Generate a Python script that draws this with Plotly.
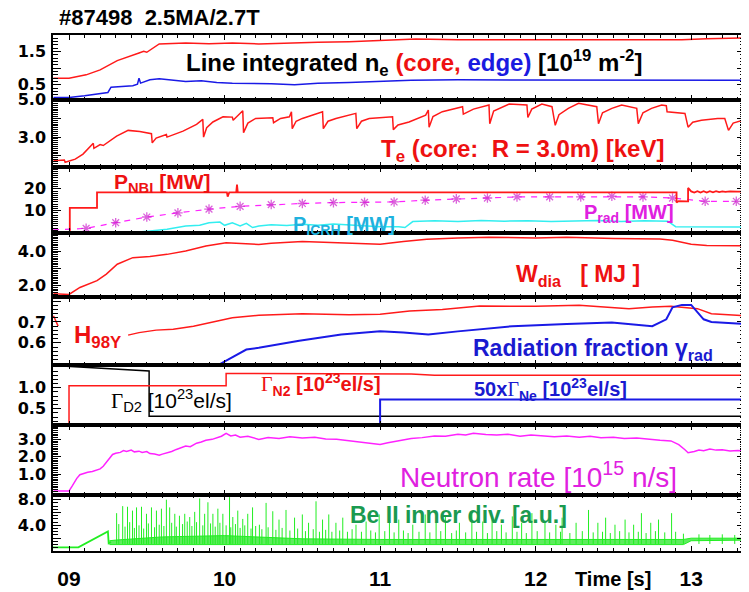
import plotly.graph_objects as go

# ---------------- data ----------------
ne_core_t = [8.90, 9.00, 9.11, 9.20, 9.31, 9.41, 9.45, 9.48, 9.50, 9.58, 9.66, 9.75, 9.90, 10.05, 10.22,
             10.40, 10.60, 10.80, 11.00, 11.23, 11.50, 11.87, 12.20, 12.51, 12.75, 12.94, 13.10, 13.26, 13.35]
ne_core_v = [0.70, 0.70, 0.80, 0.95, 1.23, 1.41, 1.46, 1.51, 1.48, 1.73, 1.75, 1.76, 1.74, 1.76, 1.73,
             1.76, 1.78, 1.80, 1.84, 1.88, 1.86, 1.86, 1.85, 1.84, 1.86, 1.86, 1.89, 1.91, 1.91]
ne_edge_t = [8.90, 9.00, 9.10, 9.20, 9.25, 9.27, 9.35, 9.41, 9.44, 9.45, 9.46, 9.52, 9.58, 9.63, 9.70,
             9.75, 9.85, 9.95, 10.05, 10.16, 10.30, 10.45, 10.60, 10.80, 11.00, 11.20, 11.50, 11.87,
             12.20, 12.51, 12.80, 13.00, 13.35]
ne_edge_v = [0.12, 0.12, 0.17, 0.25, 0.27, 0.43, 0.45, 0.47, 0.52, 0.70, 0.55, 0.65, 0.68, 0.66, 0.62,
             0.60, 0.62, 0.57, 0.55, 0.55, 0.53, 0.50, 0.55, 0.57, 0.60, 0.64, 0.65, 0.65,
             0.64, 0.63, 0.64, 0.63, 0.64]

te_t = [8.90, 8.97, 8.975, 9.04, 9.09, 9.156, 9.16, 9.20, 9.22, 9.306, 9.38, 9.455, 9.53, 9.535, 9.56,
        9.626, 9.63, 9.733, 9.82, 9.86, 9.865, 9.885, 9.925, 9.99, 10.05, 10.055, 10.117, 10.122, 10.15,
        10.20, 10.31, 10.315, 10.36, 10.417, 10.43, 10.435, 10.46, 10.50, 10.63, 10.635, 10.665, 10.716,
        10.844, 10.85, 10.88, 10.93, 11.08, 11.085, 11.115, 11.186, 11.293, 11.31, 11.315, 11.34, 11.40,
        11.53, 11.535, 11.60, 11.70, 11.705, 11.73, 11.83, 11.944, 11.95, 11.975, 12.04, 12.105, 12.126,
        12.15, 12.21, 12.276, 12.393, 12.404, 12.43, 12.49, 12.553, 12.65, 12.66, 12.69, 12.745, 12.81,
        12.84, 12.845, 12.96, 12.98, 13.01, 13.066, 13.17, 13.216, 13.24, 13.27, 13.32, 13.35]
te_v = [1.73, 1.77, 1.65, 1.82, 2.09, 2.67, 2.40, 2.60, 2.55, 3.05, 3.36, 3.30, 3.18, 2.69, 2.95,
        3.14, 3.00, 3.32, 3.68, 3.95, 3.00, 3.50, 3.81, 4.09, 4.07, 3.90, 4.41, 3.24, 3.75,
        4.00, 4.04, 3.77, 4.00, 4.09, 4.36, 3.45, 3.85, 4.00, 4.36, 3.45, 3.85, 4.00,
        4.27, 3.45, 3.85, 4.00, 4.09, 3.40, 3.65, 3.81, 4.18, 4.45, 3.53, 4.10, 4.36,
        4.63, 4.23, 4.50, 4.72, 3.72, 4.40, 4.77, 4.72, 4.05, 4.50, 4.77, 4.63, 3.63,
        4.20, 4.54, 4.81, 4.63, 3.72, 4.30, 4.54, 4.72, 4.54, 3.72, 4.30, 4.54, 4.72,
        4.68, 4.36, 4.27, 3.53, 3.80, 3.90, 4.00, 4.00, 3.36, 3.75, 3.90, 3.95]

pnbi_t = [8.897, 9.005, 9.005, 9.18, 9.18, 10.015, 10.02, 10.03, 10.075, 10.08, 10.085, 12.906,
          12.906, 12.92, 12.97, 12.98, 12.98, 13.00, 13.02, 13.04, 13.06, 13.08, 13.10, 13.12,
          13.14, 13.16, 13.18, 13.20, 13.22, 13.25, 13.30, 13.346]
pnbi_v = [0.0, 0.0, 11.3, 11.3, 18.4, 18.4, 16.4, 18.4, 18.4, 21.9, 18.4, 18.4,
          13.8, 14.4, 14.3, 14.3, 20.4, 18.8, 18.3, 18.9, 18.3, 18.9, 18.3, 18.9,
          18.4, 18.9, 18.5, 18.8, 18.6, 18.8, 18.7, 18.8]
picrh_t = [8.897, 9.45, 9.52, 9.63, 9.75, 9.84, 9.90, 9.97, 10.00, 10.05, 10.10, 10.14, 10.18,
           10.22, 10.30, 10.40, 10.50, 10.60, 10.70, 10.80, 10.90, 11.00, 11.12, 11.16, 11.21,
           11.35, 11.50, 11.65, 11.80, 11.95, 12.10, 12.25, 12.40, 12.55, 12.70, 12.85, 12.90, 13.346]
picrh_v = [0.3, 0.3, 0.7, 1.5, 3.0, 3.3, 4.5, 4.8, 3.3, 4.5, 3.0, 4.2, 2.3,
           3.0, 3.6, 3.2, 3.8, 3.3, 3.9, 3.4, 3.1, 2.7, 2.7, 2.3, 5.0,
           5.4, 5.1, 5.5, 5.2, 5.4, 5.0, 5.3, 5.5, 5.1, 5.4, 5.2, 2.7, 2.5]
prad_t = [8.897, 9.11, 9.30, 9.50, 9.70, 9.90, 10.10, 10.30, 10.50, 10.70, 10.90, 11.09, 11.29,
          11.49, 11.69, 11.88, 12.09, 12.29, 12.49, 12.69, 12.88, 13.09, 13.29]
prad_v = [1.2, 1.9, 4.5, 7.1, 9.0, 10.7, 12.0, 12.8, 13.3, 13.7, 13.8, 14.0, 14.8,
          15.4, 15.8, 16.3, 16.3, 16.3, 16.6, 16.3, 15.8, 14.3, 14.3]

wdia_t = [8.90, 9.00, 9.07, 9.18, 9.24, 9.31, 9.41, 9.52, 9.63, 9.75, 9.88, 10.01, 10.22, 10.30,
          10.50, 10.70, 10.90, 11.00, 11.15, 11.30, 11.50, 11.70, 12.00, 12.20, 12.50, 12.80,
          12.88, 13.00, 13.10, 13.35]
wdia_v = [1.53, 1.50, 1.90, 2.29, 2.67, 3.24, 3.62, 3.68, 3.81, 4.00, 4.29, 4.48, 4.38, 4.45,
          4.55, 4.50, 4.42, 4.40, 4.55, 4.68, 4.75, 4.80, 4.75, 4.80, 4.72, 4.70,
          4.63, 4.40, 4.32, 4.30]

h98_t = [8.90, 8.93, None, 9.38, 9.45, 9.56, 9.67, 9.80, 9.925, 10.05, 10.22, 10.50, 10.80, 11.00,
         11.19, 11.40, 11.64, 12.00, 12.28, 12.45, 12.60, 12.75, 12.87, 13.04, 13.13, 13.35]
h98_v = [0.73, 0.68, None, 0.637, 0.649, 0.661, 0.665, 0.680, 0.700, 0.720, 0.732, 0.740, 0.735, 0.737,
         0.753, 0.760, 0.777, 0.775, 0.780, 0.770, 0.764, 0.772, 0.775, 0.764, 0.740, 0.730]
frad_t = [9.95, 10.05, 10.14, 10.22, 10.48, 10.75, 11.00, 11.15, 11.31, 11.50, 11.85, 12.20, 12.49,
          12.75, 12.84, 12.88, 12.94, 13.00, 13.08, 13.13, 13.35]
frad_v = [0.49, 0.53, 0.568, 0.576, 0.61, 0.64, 0.656, 0.65, 0.64, 0.655, 0.68, 0.69, 0.697,
          0.68, 0.713, 0.77, 0.782, 0.782, 0.713, 0.70, 0.69]

d2_t = [8.897, 9.515, 9.515, 13.346]
d2_v = [1.53, 1.40, 0.32, 0.32]
n2_t = [8.897, 9.0, 9.0, 10.01, 10.01, 11.20, 11.35, 13.346]
n2_v = [0.10, 0.10, 1.05, 1.05, 1.34, 1.33, 1.30, 1.30]
negas_t = [8.897, 11.0, 11.0, 13.346]
negas_v = [0.10, 0.10, 0.72, 0.72]

neut_t = [8.90, 9.00, 9.02, 9.05, 9.07, 9.10, 9.12, 9.15, 9.18, 9.20, 9.22, 9.24, 9.26, 9.28, 9.30,
          9.33, 9.35, 9.37, 9.40, 9.42, 9.45, 9.47, 9.50, 9.52, 9.55, 9.58, 9.60, 9.63, 9.66, 9.69,
          9.72, 9.75, 9.78, 9.82, 9.85, 9.88, 9.92, 9.95, 9.98, 10.01, 10.04, 10.07, 10.10, 10.15,
          10.22, 10.28, 10.35, 10.42, 10.50, 10.58, 10.65, 10.72, 10.80, 10.86, 10.92, 11.00, 11.05,
          11.10, 11.15, 11.20, 11.27, 11.35, 11.42, 11.50, 11.55, 11.60, 11.68, 11.75, 11.82, 11.90,
          11.97, 12.05, 12.12, 12.20, 12.28, 12.35, 12.42, 12.50, 12.57, 12.65, 12.72, 12.80, 12.87,
          12.92, 12.96, 12.98, 13.02, 13.05, 13.08, 13.12, 13.16, 13.20, 13.25, 13.30, 13.35]
neut_v = [0.03, 0.03, 0.30, 0.75, 0.96, 1.05, 1.10, 1.15, 1.25, 1.30, 1.45, 1.70, 1.90, 2.13, 2.20,
          2.25, 2.35, 2.30, 2.38, 2.28, 2.32, 2.25, 2.30, 2.18, 2.15, 2.08, 2.15, 2.22, 2.30, 2.42,
          2.50, 2.62, 2.58, 2.78, 2.85, 2.95, 3.00, 3.10, 3.18, 3.35, 3.20, 3.25, 3.12, 3.18,
          3.00, 3.10, 3.05, 3.15, 3.08, 3.12, 3.02, 3.00, 2.92, 2.85, 2.78, 2.71, 2.80,
          2.88, 2.95, 3.05, 3.10, 3.20, 3.18, 3.30, 3.25, 3.35, 3.28, 3.25, 3.30, 3.18,
          3.25, 3.20, 3.15, 3.20, 3.12, 3.18, 3.10, 3.12, 3.05, 3.08, 3.00, 2.95, 2.91,
          2.70, 2.40, 2.23, 2.30, 2.38, 2.35, 2.45, 2.38, 2.40, 2.33, 2.36, 2.33]

be_base_t = [8.897, 9.06, 9.25, 9.255, 9.27]
be_base_v = [0.56, 0.56, 3.06, 1.20, 1.40]
be_band_hi_t = [9.26, 9.30, 9.60, 10.00, 10.50, 11.00, 12.00, 12.95, 13.00, 13.346]
be_band_hi_v = [1.6, 1.7, 2.2, 2.4, 1.9, 1.8, 1.8, 1.8, 2.0, 2.0]
be_band_lo_t = [9.26, 12.95, 13.00, 13.346]
be_band_lo_v = [1.0, 1.0, 1.6, 1.7]
be_spike_t = [9.306, 9.345, 9.376, 9.408, 9.434, 9.466, 9.498, 9.53, 9.562, 9.594, 9.626, 9.647,
              9.68, 9.71, 9.744, 9.776, 9.808, 9.84, 9.872, 9.893, 9.925, 9.957, 9.989, 10.032,
              10.053, 10.085, 10.117, 10.149, 10.18, 10.224, 10.267, 10.31, 10.35, 10.395, 10.45,
              10.50, 10.54, 10.588, 10.63, 10.67, 10.716, 10.76, 10.845, 10.91, 10.994, 11.06,
              11.12, 11.21, 11.29, 11.36, 11.42, 11.51, 11.59, 11.66, 11.72, 11.78, 11.85, 11.91,
              11.976, 12.06, 12.13, 12.17, 12.26, 12.34, 12.40, 12.45, 12.51, 12.575, 12.63, 12.68,
              12.74, 12.79, 12.874]
be_spike_v = [5.9, 7.0, 6.9, 6.3, 6.8, 6.9, 5.8, 6.8, 6.3, 6.6, 8.0, 6.8,
              5.8, 5.5, 5.8, 5.3, 6.1, 8.2, 5.8, 7.6, 5.8, 6.6, 5.8, 8.4,
              5.3, 6.3, 5.0, 5.8, 6.8, 4.1, 7.5, 6.2, 4.9, 6.4, 5.2,
              5.7, 4.4, 7.75, 4.9, 5.7, 4.4, 5.2, 4.1, 4.6, 5.7, 4.4,
              4.9, 4.1, 5.7, 4.4, 5.4, 4.4, 6.2, 4.6, 5.2, 4.1, 5.4, 4.4,
              5.9, 4.6, 4.1, 5.2, 4.4, 6.4, 4.4, 5.2, 4.1, 4.9, 4.1, 5.9,
              4.4, 4.9, 5.9]
be_small_t = [9.32, 9.36, 9.39, 9.42, 9.45, 9.48, 9.51, 9.55, 9.58, 9.61, 9.66, 9.69, 9.73, 9.76,
              9.79, 9.82, 9.86, 9.91, 9.94, 9.97, 10.01, 10.04, 10.07, 10.10, 10.13, 10.17, 10.20,
              10.24, 10.28, 10.33, 10.37, 10.42, 10.47, 10.52, 10.57, 10.61, 10.65, 10.69, 10.74,
              10.79, 10.82, 10.88, 10.94, 10.97, 11.03, 11.09, 11.15, 11.18, 11.25, 11.32, 11.39,
              11.46, 11.49, 11.55, 11.62, 11.69, 11.75, 11.81, 11.88, 11.94, 12.01, 12.09, 12.16,
              12.22, 12.30, 12.37, 12.43, 12.48, 12.54, 12.60, 12.66, 12.71, 12.77, 12.83, 12.90,
              12.95, 13.05, 13.12, 13.20, 13.28]
be_small_v = [4.2, 3.8, 4.5, 3.6, 4.0, 3.5, 4.3, 3.7, 4.1, 3.9, 4.4, 3.8, 4.2, 4.6,
              3.9, 4.5, 4.0, 4.3, 3.8, 4.4, 4.0, 3.7, 4.2, 3.6, 4.0, 3.5, 3.9,
              3.4, 3.7, 3.3, 3.6, 3.2, 3.5, 3.1, 3.4, 3.0, 3.3, 3.0, 3.2,
              3.0, 3.4, 3.0, 3.2, 2.9, 3.1, 2.9, 3.2, 2.8, 3.0, 2.9, 3.1,
              2.8, 3.2, 2.9, 3.0, 2.8, 3.1, 2.9, 3.0, 2.8, 3.1, 2.9, 3.0,
              2.8, 3.1, 2.9, 3.0, 2.8, 3.1, 2.9, 3.0, 2.8, 3.1, 2.9, 3.0,
              2.7, 2.6, 2.5, 2.6, 2.5]
be_spike_foot = 1.1

x_tickvals = [9, 10, 11, 12, 13]
x_ticktext = ['09', '10', '11', '12', '13']

# ---------------- geometry ----------------
# the page body has an 8px margin, so the figure is drawn 8px smaller and
# all layout positions below are given in window pixels
PAGE_OFF = 8
WIN_W, WIN_H = 749, 592
W, H = WIN_W - PAGE_OFF, WIN_H - PAGE_OFF
PLOT_L, PLOT_R, PLOT_T, PLOT_B = 53, 747, 35, 553
panels_px = [(35, 100), (100, 167.5), (167.5, 233.3), (233.3, 298), (298, 366), (366, 427),
             (427, 497), (497, 553)]


def px(x):
    return (x - PLOT_L) / (PLOT_R - PLOT_L)


def py(y):
    return (PLOT_B - y) / (PLOT_B - PLOT_T)


RED = '#ff1a1a'
BLUE = '#1a1ae6'
MAG = '#ff22ff'
CYAN = '#33eef0'
GREEN = '#22ee22'
FONT = 'Liberation Sans, Arial, sans-serif'
TICKFONT = 'DejaVu Sans, Verdana, sans-serif'

fig = go.Figure()


def add(x, y, i, color, width=1.5, **kw):
    fig.add_trace(go.Scatter(x=x, y=y, mode=kw.pop('mode', 'lines'),
                             line=dict(color=color, width=width, dash=kw.pop('dash', 'solid')),
                             xaxis='x' if i == 1 else f'x{i}', yaxis='y' if i == 1 else f'y{i}',
                             showlegend=False, hoverinfo='skip', connectgaps=False, **kw))


add(ne_core_t, ne_core_v, 1, RED)
add(ne_edge_t, ne_edge_v, 1, BLUE)
add(te_t, te_v, 2, RED)
add(picrh_t, picrh_v, 3, CYAN)
add(prad_t, prad_v, 3, MAG, width=1.2, dash='6px,6px', mode='lines+markers',
    marker=dict(symbol='asterisk-open', size=[0] + [8] * (len(prad_t) - 1), color='#cc22cc',
                line=dict(color='#cc22cc', width=1.3)))
add(pnbi_t, pnbi_v, 3, RED, width=1.8)
add(wdia_t, wdia_v, 4, RED)
add(h98_t, h98_v, 5, RED)
add(frad_t, frad_v, 5, BLUE, width=2)
add(d2_t, d2_v, 6, 'black')
add(n2_t, n2_v, 6, RED)
add(negas_t, negas_v, 6, BLUE, width=2)
add(neut_t, neut_v, 7, MAG)

# Be II
add(be_band_lo_t, be_band_lo_v, 8, GREEN, width=1)
add(be_band_hi_t, be_band_hi_v, 8, GREEN, width=1, fill='tonexty', fillcolor='rgba(40,230,40,0.75)')
sx, sy = [], []
for t, v in zip(be_spike_t + be_small_t, be_spike_v + be_small_v):
    sx += [t, t, None]
    sy += [be_spike_foot, v, None]
add(sx, sy, 8, GREEN, width=1)
add(be_base_t, be_base_v, 8, GREEN, width=1.8)

yconf = [
    dict(range=[0.05, 2.0], tickvals=[0.5, 1.0, 1.5], ticktext=['0.5', ' ', '1.5'], minor=0.1),
    dict(range=[1.4, 5.0], tickvals=[2, 3, 4, 5], ticktext=[' ', '3.0', ' ', '5.0'], minor=0.1),
    dict(range=[0, 30], tickvals=[10, 20], ticktext=['10', '20'], minor=1),
    dict(range=[1.35, 5.07], tickvals=[2, 3, 4, 5], ticktext=['2.0', ' ', '4.0', ' '], minor=0.1),
    dict(range=[0.495, 0.82], tickvals=[0.6, 0.7, 0.8], ticktext=['0.6', '0.7', ' '], minor=0.02),
    dict(range=[0.1, 1.55], tickvals=[0.5, 1.0, 1.5], ticktext=['0.5', '1.0', ' '], minor=0.1),
    dict(range=[-0.22, 3.8], tickvals=[1, 2, 3], ticktext=['1.0', '2.0', '3.0'], minor=0.1),
    dict(range=[0, 8.7], tickvals=[2, 4, 6, 8], ticktext=[' ', '4.0', ' ', '8.0'], minor=0.5),
]

layout = dict(width=W, height=H,
              margin=dict(l=PLOT_L - PAGE_OFF, r=WIN_W - PLOT_R, t=PLOT_T - PAGE_OFF, b=WIN_H - PLOT_B),
              paper_bgcolor='white', plot_bgcolor='white', font=dict(family=FONT, color='black'))
for i in range(1, 9):
    top, bot = panels_px[i - 1]
    xa = dict(domain=[0, 1], range=[8.897, 13.346], anchor='y' if i == 1 else f'y{i}',
              showgrid=False, zeroline=False, showline=True, linecolor='black', linewidth=1.5,
              mirror='allticks', ticks='inside', ticklen=5, tickwidth=1, tickcolor='black',
              tickvals=x_tickvals, ticktext=x_ticktext,
              minor=dict(ticks='inside', dtick=0.1, tick0=9, ticklen=3, tickwidth=1, tickcolor='black'),
              showticklabels=(i == 8),
              tickfont=dict(family=FONT, size=21, weight='bold', color='black'),
              ticklabelstandoff=8)
    if i > 1:
        xa['matches'] = 'x'
    c = yconf[i - 1]
    ya = dict(domain=[py(bot), py(top)], range=c['range'], anchor='x' if i == 1 else f'x{i}',
              showgrid=False, zeroline=False, showline=True, linecolor='black', linewidth=1.5,
              mirror='allticks', ticks='inside', ticklen=8, tickwidth=1, tickcolor='black',
              tickvals=c['tickvals'], ticktext=c['ticktext'],
              minor=dict(ticks='inside', dtick=c['minor'], ticklen=5, tickwidth=1, tickcolor='black'),
              tickfont=dict(family=TICKFONT, size=16, weight='bold', color='black'),
              ticklabelstandoff=2)
    layout['xaxis' if i == 1 else f'xaxis{i}'] = xa
    layout['yaxis' if i == 1 else f'yaxis{i}'] = ya

anns = []


def ann(text, cx, cy, size, color='black', bold=True, xanchor='center'):
    anns.append(dict(text=text, x=px(cx), y=py(cy), xref='paper', yref='paper', showarrow=False,
                     xanchor=xanchor, yanchor='middle',
                     font=dict(family=FONT, size=size, color=color, weight='bold' if bold else 'normal')))


GAM = "<span style=\"font-family:'Liberation Serif', 'Times New Roman', serif;font-weight:normal\">Γ</span>"
ann('#87498  2.5MA/2.7T', 57, 17, 22, xanchor='left')
ann("Line integrated n<sub>e</sub> <span style='color:#ee1111'>(core,</span> "
    "<span style='color:#1a1ae0'>edge)</span> [10<sup>19</sup> m<sup>-2</sup>]", 415, 63, 24)
ann('T<sub>e</sub> (core:  R = 3.0m) [keV]', 524, 151, 24, '#ee1111')
ann('P<sub>NBI</sub> [MW]', 162, 184, 21, '#ee1111')
ann('P<sub>ICRH</sub> [MW]', 345, 226, 20, '#1fb2de')
ann('P<sub>rad</sub> [MW]', 631, 214, 20, '#e020e0')
ann('W<sub>dia</sub>   [ MJ ]', 580, 276, 23, '#ee1111')
ann('H<sub>98Y</sub>', 98, 338, 24, '#ee1111')
ann('Radiation fraction γ<sub>rad</sub>', 595, 351, 23, '#1a1ad0')
ann(GAM + '<sub>N2</sub> [10<sup>23</sup>el/s]', 322, 386, 20, '#ee1111')
ann('50x' + GAM + '<sub>Ne</sub> [10<sup>23</sup>el/s]', 552, 391, 20, '#1a1ad0')
ann(GAM + '<sub>D2</sub> [10<sup>23</sup>el/s]', 172, 402, 21, 'black', bold=False)
ann('Neutron rate [10<sup>15</sup> n/s]', 540, 477, 28, '#e020e0', bold=False)
ann('Be II inner div. [a.u.]', 460, 517, 23, '#1a9a50')
ann('Time [s]', 615, 581, 20, 'black')
layout['annotations'] = anns

fig.update_layout(**layout)
fig.write_html('out.html')
